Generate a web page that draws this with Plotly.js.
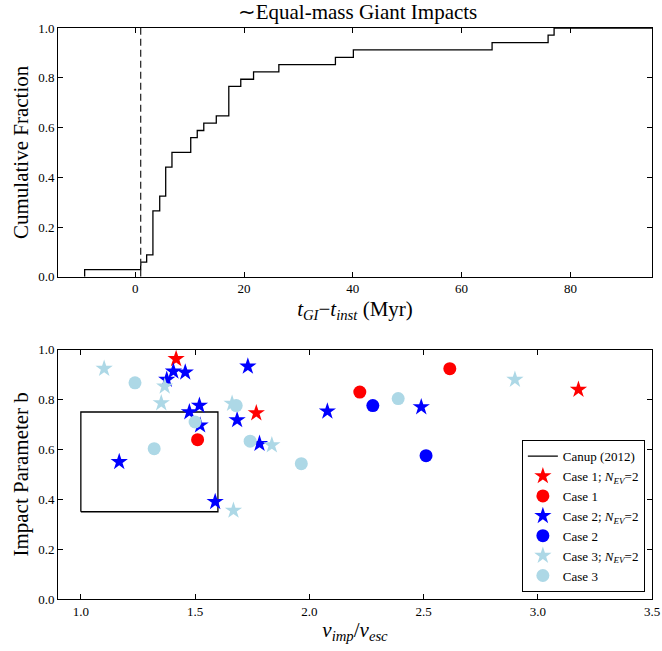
<!DOCTYPE html>
<html>
<head>
<meta charset="utf-8">
<script src="https://cdn.plot.ly/plotly-3.0.1.min.js"></script>
<style>html,body{margin:0;padding:0;background:#fff;}#chart{width:662px;height:651px;}</style>
</head>
<body>
<div id="chart"></div>
<script>
// ---- Top panel: cumulative fraction of giant-impact times ----
const stepTimes = [-9.3, 1.0, 2.1, 3.25, 4.5, 5.6, 6.75, 10.2, 11.4, 12.6, 14.9, 17.2, 19.4, 21.75, 26.4, 36.8, 40.1, 65.6, 75.9, 77.0];
const stepFractions = [0.029, 0.059, 0.088, 0.265, 0.324, 0.441, 0.5, 0.559, 0.588, 0.618, 0.647, 0.765, 0.794, 0.824, 0.853, 0.882, 0.912, 0.941, 0.971, 1.0];
const instabilityTime = 1.0;
const topXTicks = [0, 20, 40, 60, 80];
const fracTicks = [0.0, 0.2, 0.4, 0.6, 0.8, 1.0];

// ---- Bottom panel: impact parameter vs impact velocity ----
const canupX = [1.0, 1.6, 1.6, 1.0, 1.0];
const canupY = [0.35, 0.35, 0.75, 0.75, 0.35];

const case1StarX = [1.417, 1.768, 3.178];
const case1StarY = [0.963, 0.746, 0.840];
const case1DotX = [1.511, 2.221, 2.615];
const case1DotY = [0.639, 0.830, 0.924];

const case2StarX = [1.405, 1.457, 1.376, 1.519, 1.475, 1.522, 1.168, 1.588, 1.731, 1.684, 1.782, 2.079, 2.490];
const case2StarY = [0.913, 0.909, 0.880, 0.776, 0.750, 0.697, 0.550, 0.390, 0.933, 0.718, 0.623, 0.753, 0.770];
const case2DotX = [2.278, 2.511];
const case2DotY = [0.776, 0.575];

const case3StarX = [1.102, 1.367, 1.352, 1.668, 1.662, 1.836, 2.900];
const case3StarY = [0.924, 0.853, 0.786, 0.355, 0.784, 0.617, 0.880];
const case3DotX = [1.237, 1.500, 1.321, 1.680, 1.741, 1.965, 2.389];
const case3DotY = [0.867, 0.710, 0.603, 0.776, 0.633, 0.543, 0.804];

const bottomXTicks = [1.0, 1.5, 2.0, 2.5, 3.0, 3.5];

const serif = '"Liberation Serif", "Times New Roman", serif';
const sub = '<i>N</i><sub><i>EV</i></sub>=2';

const traces = [
  {x: [stepTimes[0]].concat(stepTimes, [100]), y: [0].concat(stepFractions, [1.0]),
   mode: 'lines', line: {shape: 'hv', color: '#000', width: 1.3}, xaxis: 'x', yaxis: 'y', showlegend: false, hoverinfo: 'skip'},
  {x: [instabilityTime, instabilityTime], y: [0, 1], mode: 'lines',
   line: {color: '#333', width: 1.3, dash: '7px,4px'}, xaxis: 'x', yaxis: 'y', showlegend: false},

  {x: canupX, y: canupY, mode: 'lines', name: 'Canup (2012)', line: {color: '#000', width: 1.3}, xaxis: 'x2', yaxis: 'y2'},
  {x: case1StarX, y: case1StarY, mode: 'markers', name: 'Case 1; ' + sub, marker: {symbol: 'star', size: 13, color: '#ff0000'}, xaxis: 'x2', yaxis: 'y2'},
  {x: case1DotX, y: case1DotY, mode: 'markers', name: 'Case 1', marker: {symbol: 'circle', size: 13, color: '#ff0000'}, xaxis: 'x2', yaxis: 'y2'},
  {x: case2StarX, y: case2StarY, mode: 'markers', name: 'Case 2; ' + sub, marker: {symbol: 'star', size: 13, color: '#0000ff'}, xaxis: 'x2', yaxis: 'y2'},
  {x: case2DotX, y: case2DotY, mode: 'markers', name: 'Case 2', marker: {symbol: 'circle', size: 13, color: '#0000ff'}, xaxis: 'x2', yaxis: 'y2'},
  {x: case3StarX, y: case3StarY, mode: 'markers', name: 'Case 3; ' + sub, marker: {symbol: 'star', size: 13, color: '#add8e6'}, xaxis: 'x2', yaxis: 'y2'},
  {x: case3DotX, y: case3DotY, mode: 'markers', name: 'Case 3', marker: {symbol: 'circle', size: 13, color: '#add8e6'}, xaxis: 'x2', yaxis: 'y2'}
];

const axisCommon = {
  showline: true, linecolor: '#000', linewidth: 1, mirror: 'ticks',
  ticks: 'inside', ticklen: 5, tickwidth: 1, tickcolor: '#000',
  showgrid: false, zeroline: false,
  tickfont: {family: serif, size: 13, color: '#000'}
};

const layout = {
  width: 662, height: 651,
  margin: {l: 58, r: 10, t: 28, b: 52},
  paper_bgcolor: '#fff', plot_bgcolor: '#fff',
  font: {family: serif, color: '#000'},
  title: {text: '∼Equal-mass Giant Impacts', font: {family: serif, size: 21, color: '#000'},
          x: 0.54, xanchor: 'center', y: 0.982, yanchor: 'middle'},
  xaxis: Object.assign({}, axisCommon, {
    domain: [0, 1], anchor: 'y', range: [-14.2, 95], tickvals: topXTicks,
    title: {text: '<i>t</i><sub><i>GI</i></sub>−<i>t</i><sub><i>inst</i></sub> (Myr)', font: {family: serif, size: 21}, standoff: 5}
  }),
  yaxis: Object.assign({}, axisCommon, {
    domain: [0.5643, 1], anchor: 'x', range: [0, 1.0], tickvals: fracTicks, tickformat: '.1f',
    title: {text: 'Cumulative Fraction', font: {family: serif, size: 21}, standoff: 3}
  }),
  xaxis2: Object.assign({}, axisCommon, {
    domain: [0, 1], anchor: 'y2', range: [0.9, 3.5], tickvals: bottomXTicks, tickformat: '.1f',
    title: {text: '<i>v</i><sub><i>imp</i></sub>/<i>v</i><sub><i>esc</i></sub>', font: {family: serif, size: 21}, standoff: 4}
  }),
  yaxis2: Object.assign({}, axisCommon, {
    domain: [0, 0.4366], anchor: 'x2', range: [0, 1.0], tickvals: fracTicks, tickformat: '.1f',
    title: {text: 'Impact Parameter b', font: {family: serif, size: 21}, standoff: 3}
  }),
  legend: {x: 0.988, xanchor: 'right', y: 0.012, yanchor: 'bottom',
           bgcolor: '#fff', bordercolor: '#000', borderwidth: 1,
           font: {family: serif, size: 13, color: '#000'}},
  showlegend: true
};

Plotly.newPlot('chart', traces, layout, {displayModeBar: false, staticPlot: true});
</script>
</body>
</html>
